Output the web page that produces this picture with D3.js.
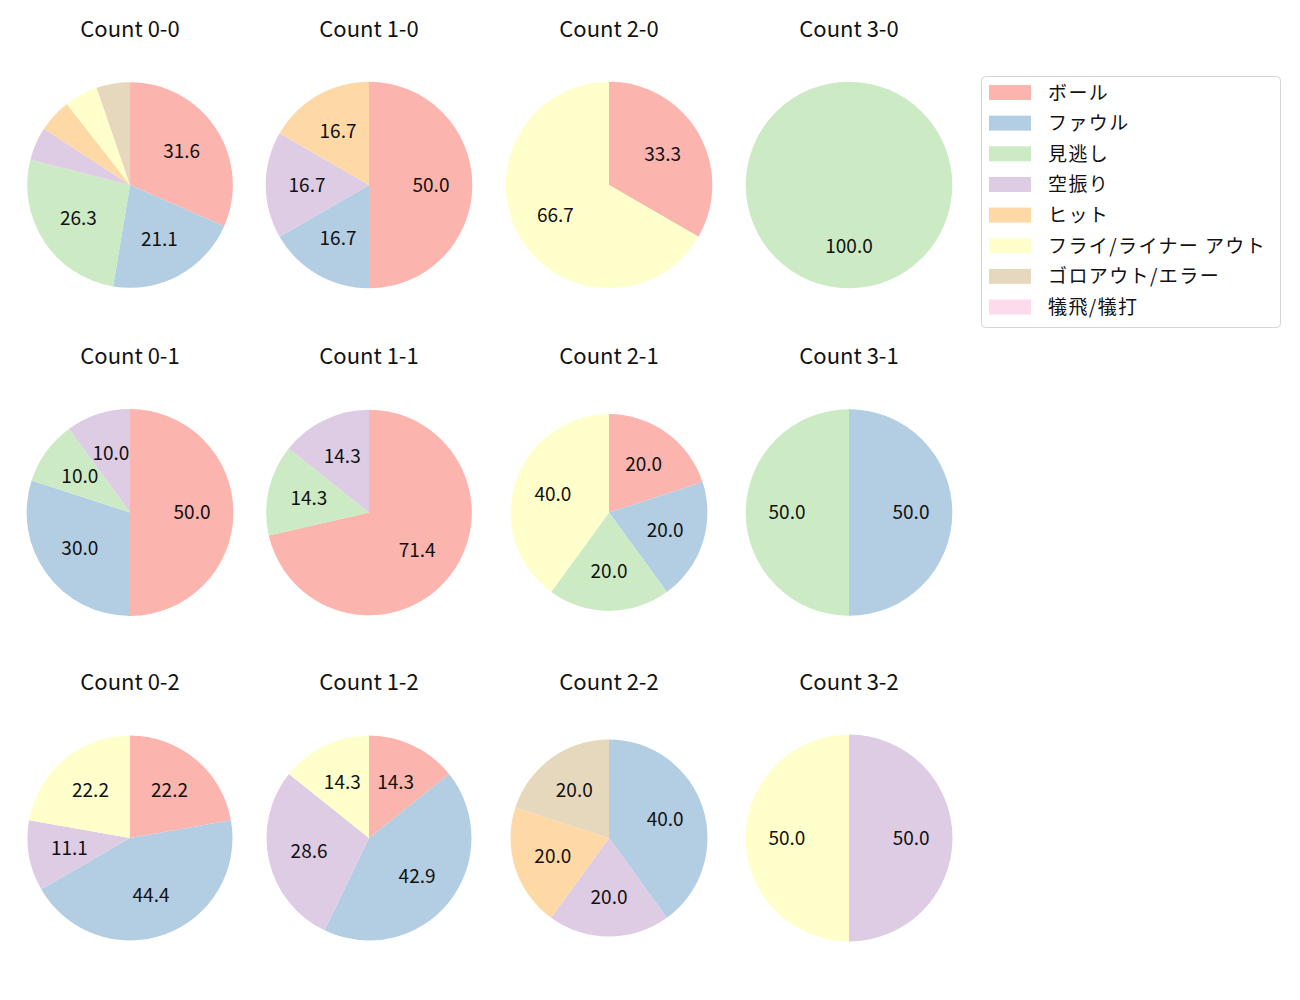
<!DOCTYPE html>
<html><head><meta charset="utf-8">
<script src="https://cdn.jsdelivr.net/npm/d3@7"></script>
<style>body{margin:0;background:#fff}svg{display:block}</style>
</head><body>
<svg id="c" width="1300" height="1000"></svg>
<script>
// ---- data ----
const categories = ["ボール","ファウル","見逃し","空振り","ヒット","フライ/ライナー アウト","ゴロアウト/エラー","犠飛/犠打"];
const colors = ["#fbb4ae","#b3cde3","#ccebc5","#decbe4","#fed9a6","#ffffcc","#e5d8bd","#fddaec"];
const titles = ["Count 0-0","Count 1-0","Count 2-0","Count 3-0",
                "Count 0-1","Count 1-1","Count 2-1","Count 3-1",
                "Count 0-2","Count 1-2","Count 2-2","Count 3-2"];
// counts per category (same order as categories)
const count00 = [6,4,5,1,1,1,1,0];
const count10 = [3,1,0,1,1,0,0,0];
const count20 = [1,0,0,0,0,2,0,0];
const count30 = [0,0,1,0,0,0,0,0];
const count01 = [5,3,1,1,0,0,0,0];
const count11 = [5,0,1,1,0,0,0,0];
const count21 = [1,1,1,0,0,2,0,0];
const count31 = [0,1,1,0,0,0,0,0];
const count02 = [2,4,0,1,0,2,0,0];
const count12 = [1,3,0,2,0,1,0,0];
const count22 = [0,2,0,1,1,0,1,0];
const count32 = [0,0,0,1,0,1,0,0];
const allCounts = [count00,count10,count20,count30,count01,count11,count21,count31,count02,count12,count22,count32];

// ---- layout ----
const colX = [130, 369, 609, 849];
const rowY = [185, 512.5, 838];
const titleY = [27, 354, 680];
const radii = [102.8,103.3,103.3,103.3, 103.4,102.8,98.4,103.3, 102.5,102.5,98.5,103.5];
const FONT = "'Noto Sans CJK JP','Noto Sans',sans-serif";

const svg = d3.select("#c");
const color = d3.scaleOrdinal().domain(categories).range(colors);
const pie = d3.pie().sort(null).value(d => d.v).startAngle(0).endAngle(2*Math.PI);

allCounts.forEach((counts, i) => {
  const col = i % 4, row = Math.floor(i / 4);
  const cx = colX[col], cy = rowY[row], r = radii[i];
  const total = d3.sum(counts);
  const data = categories.map((c, k) => ({cat: c, v: counts[k]})).filter(d => d.v > 0);
  const arcs = pie(data);
  const g = svg.append("g").attr("transform", `translate(${cx},${cy})`);
  const arc = d3.arc().innerRadius(0).outerRadius(r);
  const labelArc = d3.arc().innerRadius(r*0.6).outerRadius(r*0.6);
  g.selectAll("path").data(arcs).join("path")
    .attr("d", arc).attr("fill", d => color(d.data.cat));
  g.selectAll("text").data(arcs.filter(d => d.data.v / total * 100 >= 8)).join("text")
    .attr("x", d => labelArc.centroid(d)[0])
    .attr("y", d => labelArc.centroid(d)[1] - 2)
    .attr("text-anchor", "middle").attr("dominant-baseline", "central")
    .attr("font-family", FONT).attr("font-size", 19).attr("fill", "#111")
    .text(d => (d.data.v / total * 100).toFixed(1));
  svg.append("text").attr("x", cx).attr("y", titleY[row])
    .attr("text-anchor", "middle").attr("dominant-baseline", "central")
    .attr("font-family", FONT).attr("font-size", 22).attr("fill", "#111")
    .text(titles[i]);
});

// legend
const lg = svg.append("g");
lg.append("rect").attr("x", 981.5).attr("y", 76.5).attr("width", 299).attr("height", 251)
  .attr("rx", 4).attr("fill", "#fff").attr("stroke", "#d5d5d5").attr("stroke-width", 1);
const ly = d3.scalePoint().domain(categories).range([92.5, 307]);
categories.forEach(c => {
  lg.append("rect").attr("x", 989).attr("y", ly(c) - 7.5).attr("width", 42).attr("height", 15)
    .attr("fill", color(c));
  lg.append("text").attr("x", 1048).attr("y", ly(c) - 1.5).attr("dominant-baseline", "central")
    .attr("font-family", FONT).attr("font-size", 19).attr("letter-spacing", 1.4)
    .attr("fill", "#111").text(c);
});
</script>
</body></html>
